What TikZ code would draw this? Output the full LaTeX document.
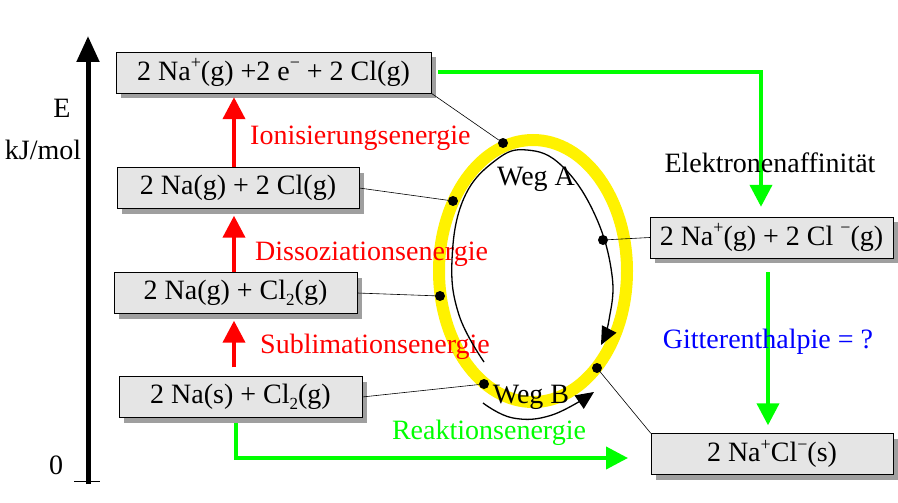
\documentclass[tikz,border=0pt]{standalone}
\usepackage{fontspec}
\setmainfont{Liberation Serif}
\usetikzlibrary{arrows.meta,shadows}
\tikzstyle{niveau}=[draw=black,fill=gray!20,inner sep=0pt,minimum height=41pt,drop shadow={shadow xshift=5pt,shadow yshift=-5pt,fill=gray!75,opacity=1}]
\tikzstyle{monte}=[line width=4pt,draw=red,-{Triangle[length=22pt,width=22pt]}]
\tikzstyle{vert}=[line width=4pt,draw=green,-{Triangle[length=22pt,width=22pt]}]
\tikzstyle{lien}=[line width=0.6pt,black]
\tikzstyle{point}=[circle,fill=black,inner sep=0pt,minimum size=10pt]
\tikzstyle{weg}=[line width=1.3pt,black,-{Triangle[length=18pt,width=16pt]}]
\newcommand{\hoch}[1]{\raisebox{0.4em}{\fontsize{18}{18}\selectfont #1}}
\newcommand{\tief}[1]{\raisebox{-0.2em}{\fontsize{17}{17}\selectfont #1}}

\begin{document}
\begin{tikzpicture}[x=1pt,y=-1pt,font=\fontsize{28}{32}\selectfont]
\useasboundingbox (0,0) rectangle (898,503);
%axe
\coordinate (O) at (88,484);
\coordinate (T) at (88,36);
\draw[line width=5pt,-{Triangle[length=26pt,width=22pt]}] (O) -- (T);
\coordinate (K1) at (74,481);
\coordinate (K2) at (100,481);
\draw (K1) -- (K2);
\node (E) at (62,108) {E};
\node (U) at (43,150) {kJ/mol};
\node (Z) at (56,465) {0};

%anneau jaune
\draw[yellow,line width=12pt] (533,271) ellipse [x radius=94pt,y radius=131pt];

%niveaux
\node[niveau,minimum width=315pt] (Ion) at (273.5,72.5) {2 Na\hoch{+}(g) +2 e\hoch{−} + 2 Cl(g)};
\node[niveau,minimum width=242pt] (Atom) at (238,188) {2 Na(g) + 2 Cl(g)};
\node[niveau,minimum width=243pt] (Gas) at (235.5,293) {2 Na(g) + Cl\tief{2}(g)};
\node[niveau,minimum width=243pt] (Solid) at (240.5,397) {2 Na(s) + Cl\tief{2}(g)};
\node[niveau,minimum width=243pt] (Anion) at (771.5,237.5) {2 Na\hoch{+}(g) + 2 Cl \hoch{−}(g)};
\node[niveau,minimum width=242pt] (Salz) at (772,454) {2 Na\hoch{+}Cl\hoch{−}(s)};

%fleches rouges
\coordinate (S) at (234,0);
\draw[monte] (Atom.north -| S) -- ([yshift=-4pt]Ion.south -| S);
\draw[monte] (Gas.north -| S) -- ([yshift=-7pt]Atom.south -| S);
\draw[monte] ([yshift=9pt]Solid.north -| S) -- ([yshift=-7pt]Gas.south -| S);
\node[red,anchor=west,inner sep=0pt] (L1) at (250,138) {Ionisierungsenergie};
\node[red,anchor=west,inner sep=0pt] (L2) at (255,254) {Dissoziationsenergie};
\node[red,anchor=west,inner sep=0pt] (L3) at (260,347) {Sublimationsenergie};

%fleches vertes
\coordinate (V) at (761,0);
\coordinate (W) at (768,0);
\coordinate (R) at (236,0);
\coordinate (Rend) at (628,458);
\draw[vert] ([xshift=7pt]Ion.east) -| ([yshift=10pt]Anion.north -| V);
\draw[vert] ([yshift=-14pt]Anion.south -| W) -- ([yshift=8pt]Salz.north -| W);
\draw[vert] ([yshift=-5pt]Solid.south -| R) |- (Rend);
\node[green] (L4) at (489,433) {Reaktionsenergie};
\node (L5) at (770,163) {Elektronenaffinität};
\node[blue] (L6) at (768,342) {Gitterenthalpie = ?};

%cycle
\draw[weg] plot[smooth,tension=0.7] coordinates {(484,362) (459,315) (452,260) (464,198) (496,160) (527,150) (562,166) (595,215) (612,275) (609,320) (601,345)};
\draw[weg] plot[smooth,tension=0.7] coordinates {(483,403) (513,418) (552,415) (594,392)};
\node (WA) at (536,179) {Weg A};
\node (WB) at (531,397) {Weg B};

\node[point] (P1) at (503,143) {};
\node[point] (P2) at (453,201) {};
\node[point] (P3) at (440,296) {};
\node[point] (P4) at (484,384) {};
\node[point] (P5) at (603,240) {};
\node[point] (P6) at (597,368) {};
\draw[lien] (Ion.south east) -- (P1);
\draw[lien] (Atom.east) -- (P2);
\draw[lien] (Gas.east) -- (P3);
\draw[lien] (Solid.east) -- (P4);
\draw[lien] (Anion.west) -- (P5);
\draw[lien] (Salz.north west) -- (P6);
\end{tikzpicture}
\end{document}
